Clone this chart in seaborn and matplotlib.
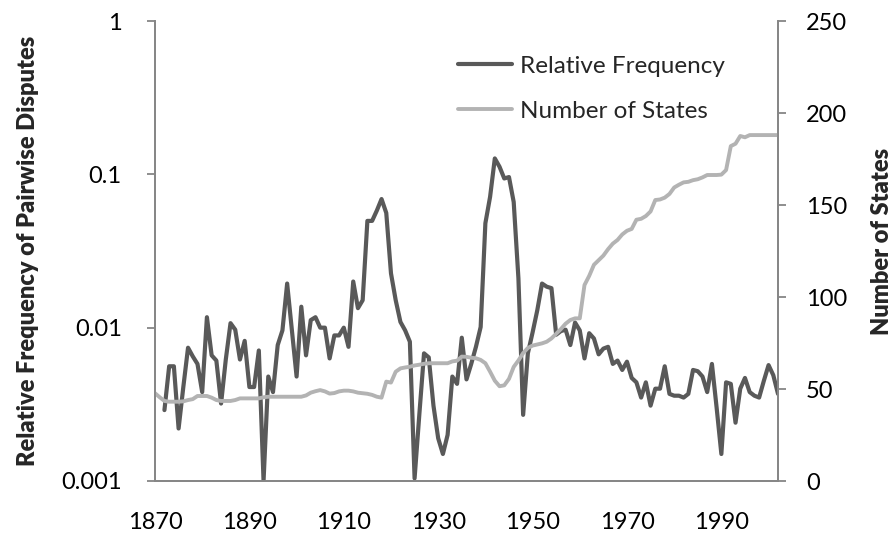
import numpy as np
import pandas as pd
import matplotlib
matplotlib.use('Agg')
import matplotlib.pyplot as plt
import seaborn as sns

# Relative frequency of pairwise disputes (left, log axis), 1872-2002
freq_years = list(range(1872, 2003))
freq_values = [
    0.0029, 0.0056, 0.0056, 0.0022, 0.0041, 0.0074, 0.0065, 0.0058, 0.0038, 0.0117,  # 1872-1881
    0.0066, 0.0061, 0.0032, 0.0062, 0.0107, 0.0097, 0.0062, 0.0082, 0.0041, 0.0041,  # 1882-1891
    0.0071, 0.0010, 0.0048, 0.0038, 0.0077, 0.0096, 0.0194, 0.0096, 0.0048, 0.0137,  # 1892-1901
    0.0066, 0.0112, 0.0117, 0.0100, 0.0100, 0.0063, 0.0089, 0.0089, 0.0100, 0.0075,  # 1902-1911
    0.0200, 0.0134, 0.0151, 0.0497, 0.0497, 0.0580, 0.0690, 0.0560, 0.0226, 0.0151,  # 1912-1921
    0.0109, 0.0096, 0.0081, 0.00104, 0.0027, 0.0068, 0.0064, 0.0031, 0.0019, 0.0015,  # 1922-1931
    0.0020, 0.0048, 0.0043, 0.0086, 0.0046, 0.0058, 0.0075, 0.0101, 0.0480, 0.0714,  # 1932-1941
    0.1270, 0.1120, 0.0940, 0.0960, 0.0660, 0.0210, 0.0027, 0.0068, 0.0093, 0.0130,  # 1942-1951
    0.0194, 0.0185, 0.0181, 0.0090, 0.0095, 0.0097, 0.0077, 0.0108, 0.0096, 0.0063,  # 1952-1961
    0.0092, 0.0085, 0.0067, 0.0073, 0.0075, 0.0058, 0.0061, 0.0053, 0.0060, 0.0047,  # 1962-1971
    0.0044, 0.0035, 0.0044, 0.0031, 0.0040, 0.0040, 0.0056, 0.0037, 0.0036, 0.0036,  # 1972-1981
    0.0035, 0.0037, 0.0053, 0.0052, 0.0048, 0.0038, 0.0058, 0.0030, 0.0015, 0.0044,  # 1982-1991
    0.0043, 0.0024, 0.0040, 0.0047, 0.0038, 0.0036, 0.0035, 0.0045, 0.0057, 0.0049,  # 1992-2001
    0.0037,                                                                          # 2002
]

# Number of states (right axis), 1870-2002
state_years = list(range(1870, 2003))
state_counts = [
    47.7, 45.5, 43.5, 43.1, 43.1, 43.1, 43.3, 44.0, 44.5, 46.2,  # 1870-1879
    46.2, 46.2, 45.3, 44.0, 43.5, 43.5, 43.5, 44.0, 44.9, 44.9,  # 1880-1889
    44.9, 44.9, 44.9, 45.5, 45.8, 45.8, 45.8, 45.8, 45.8, 45.8,  # 1890-1899
    45.8, 45.8, 46.5, 48.0, 48.8, 49.4, 48.7, 47.5, 47.8, 48.7,  # 1900-1909
    49.1, 49.1, 48.7, 48.0, 47.7, 47.4, 46.8, 45.8, 45.3, 54.0,  # 1910-1919
    53.5, 59.4, 61.2, 61.7, 62.1, 62.8, 63.2, 63.7, 64.0, 64.0,  # 1920-1929
    64.0, 64.0, 64.0, 65.0, 65.4, 67.6, 67.5, 67.0, 66.7, 65.8,  # 1930-1939
    64.0, 59.4, 54.5, 51.5, 52.0, 55.5, 62.0, 65.5, 69.5, 72.3,  # 1940-1949
    73.6, 74.2, 74.8, 75.7, 77.5, 80.0, 82.6, 85.5, 87.5, 88.4,  # 1950-1959
    88.4, 106.5, 111.5, 117.5, 120.0, 122.5, 126.0, 129.0, 131.0, 134.0,  # 1960-1969
    136.0, 137.0, 142.0, 142.5, 144.0, 146.5, 152.7, 153.0, 154.0, 156.0,  # 1970-1979
    159.5, 161.0, 162.3, 162.6, 163.5, 164.0, 165.0, 166.3, 166.3, 166.3,  # 1980-1989
    166.5, 169.0, 182.0, 183.3, 187.5, 186.8, 188.0, 188.0, 188.0, 188.0,  # 1990-1999
    188.0, 188.0, 188.0,                                                   # 2000-2002
]

x_ticks = list(range(1870, 2003, 10))
x_tick_labels = [str(y) if (y - 1870) % 20 == 0 else '' for y in x_ticks]
left_ticks = [0.001, 0.01, 0.1, 1]
left_tick_labels = ['0.001', '0.01', '0.1', '1']
right_ticks = [0, 50, 100, 150, 200, 250]

freq_df = pd.DataFrame({'year': freq_years, 'freq': freq_values})
state_df = pd.DataFrame({'year': state_years, 'states': state_counts})

sns.set_style('white')
plt.rcParams['font.family'] = ['Lato', 'DejaVu Sans']

dark = '#595959'
light = '#b3b3b3'
axis_col = '#868686'

fig = plt.figure(figsize=(8.95, 5.35), dpi=100)
ax = fig.add_axes([155 / 895, 1 - 481 / 535, 623 / 895, 460 / 535])
ax2 = ax.twinx()

sns.lineplot(data=freq_df, x='year', y='freq', ax=ax, color=dark, linewidth=3.0,
             label='Relative Frequency', legend=False)
sns.lineplot(data=state_df, x='year', y='states', ax=ax2, color=light, linewidth=2.8,
             label='Number of States', legend=False)

ax.set_yscale('log')
ax.set_ylim(0.001, 1)
ax.set_xlim(1870, 2002)
ax2.set_ylim(0, 250)

ax.set_xticks(x_ticks)
ax.set_xticklabels(x_tick_labels)
ax.set_yticks(left_ticks)
ax.set_yticklabels(left_tick_labels)
ax.yaxis.set_minor_locator(matplotlib.ticker.NullLocator())
ax2.set_yticks(right_ticks)

for a in (ax, ax2):
    a.spines['top'].set_visible(False)
    for side in ('left', 'right', 'bottom'):
        a.spines[side].set_color(axis_col)
        a.spines[side].set_linewidth(1.3)

ax.tick_params(axis='both', which='major', direction='out', length=6, width=1.3,
               color=axis_col, labelsize=17, labelcolor='black')
ax.tick_params(axis='y', pad=18)
ax.tick_params(axis='x', pad=16)
ax2.tick_params(axis='y', direction='out', length=6, width=1.3, color=axis_col,
                labelsize=17, labelcolor='black', pad=14)

ax.set_xlabel('')
ax.set_ylabel('Relative Frequency of Pairwise Disputes', fontsize=17, fontweight='heavy',
              va='center')
ax.yaxis.set_label_coords((28 - 155) / 623, 0.5)
ax2.set_ylabel('Number of States', fontsize=17, fontweight='heavy', va='center')
ax2.yaxis.set_label_coords((882 - 155) / 623, 0.52)

h1, l1 = ax.get_legend_handles_labels()
h2, l2 = ax2.get_legend_handles_labels()
ax2.legend(h1 + h2, l1 + l2, loc='upper left', bbox_to_anchor=(0.47, 0.946),
           frameon=False, fontsize=17.5, handlelength=2.25, handletextpad=0.3,
           labelspacing=1.0, borderaxespad=0)

fig.savefig('out.png', dpi=100)
